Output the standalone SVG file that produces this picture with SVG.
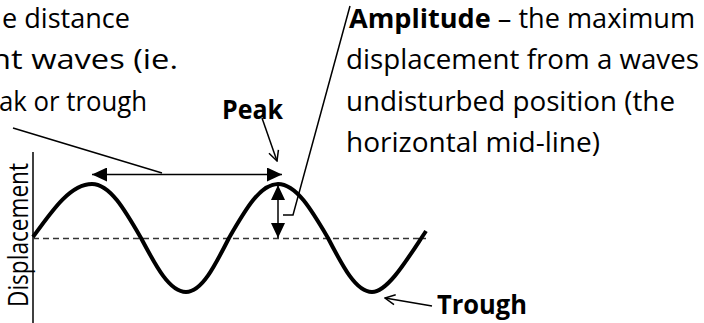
<svg xmlns="http://www.w3.org/2000/svg" width="704" height="323" viewBox="0 0 704 323">
<style>
.t{font-family:"Open Sans","Liberation Sans",sans-serif;font-size:27px;fill:#000}
.b{font-weight:bold}
.ln{stroke:#000;stroke-width:1.5;fill:none}
</style>
<defs>
<marker id="tri" markerUnits="userSpaceOnUse" viewBox="0 0 15 14" refX="15" refY="7" markerWidth="15" markerHeight="14" orient="auto-start-reverse">
<path d="M0,0 L15,7 L0,14 z" fill="#000"/>
</marker>
<marker id="open" markerUnits="userSpaceOnUse" viewBox="0 0 12 12" refX="11" refY="6" markerWidth="12" markerHeight="12" orient="auto">
<path d="M1,1 L11,6 L1,11" fill="none" stroke="#000" stroke-width="1.5"/>
</marker>
</defs>
<rect width="704" height="323" fill="#fff"/>

<g id="wavelength-text">
<text class="t" x="2" y="28" textLength="128" lengthAdjust="spacingAndGlyphs">e distance</text>
<text class="t" x="-9" y="69" textLength="187" lengthAdjust="spacingAndGlyphs">nt waves (ie.</text>
<text class="t" x="-1" y="111" textLength="148" lengthAdjust="spacingAndGlyphs">ak or trough</text>
</g>

<g id="amplitude-text">
<text class="t" x="349" y="28" textLength="346" lengthAdjust="spacingAndGlyphs"><tspan class="b">Amplitude</tspan> – the maximum</text>
<text class="t" x="346" y="69" textLength="353" lengthAdjust="spacingAndGlyphs">displacement from a waves</text>
<text class="t" x="346" y="111" textLength="329" lengthAdjust="spacingAndGlyphs">undisturbed position (the</text>
<text class="t" x="346" y="152" textLength="254" lengthAdjust="spacingAndGlyphs">horizontal mid-line)</text>
</g>

<g id="peak-label">
<text class="t b" x="222" y="119" textLength="61" lengthAdjust="spacingAndGlyphs">Peak</text>
</g>

<g id="trough-label">
<text class="t b" x="437" y="314" textLength="90" lengthAdjust="spacingAndGlyphs">Trough</text>
</g>

<g id="axis">
<line x1="33" y1="152" x2="33" y2="323" stroke="#000" stroke-width="1.5"/>
<text class="t" transform="translate(28,235) rotate(-90)" text-anchor="middle" textLength="144" lengthAdjust="spacingAndGlyphs" font-size="21">Displacement</text>
</g>

<g id="midline">
<line x1="33" y1="238.5" x2="426" y2="238.5" stroke="#333" stroke-width="1.5" stroke-dasharray="6 4"/>
</g>

<g id="wave">
<path d="M33,237 C52.7,209.6 70.6,184 92,184 C109.8,184 124.6,209.6 141,238 C156,266.4 169.6,292 186,292 C201.6,292 214.6,266.4 229,238 C245.4,209.6 260.2,184 278,184 C296.2,184 311.3,209.6 328,238 C342.7,266.4 356,292 372,292 C388,292 408,258 426,231" fill="none" stroke="#000" stroke-width="4"/>
</g>

<g id="connectors">
<line class="ln" x1="92" y1="174.5" x2="282" y2="174.5" marker-start="url(#tri)" marker-end="url(#tri)"/>
<line class="ln" x1="278" y1="185" x2="278" y2="238" stroke="#222" marker-start="url(#tri)" marker-end="url(#tri)"/>
<line class="ln" x1="13" y1="128" x2="162" y2="173"/>
<line class="ln" x1="262" y1="118" x2="277" y2="161" marker-end="url(#open)"/>
<polyline class="ln" points="283,215 293,215 350,6"/>
<line class="ln" x1="432" y1="306" x2="385" y2="298" marker-end="url(#open)"/>
</g>
</svg>
